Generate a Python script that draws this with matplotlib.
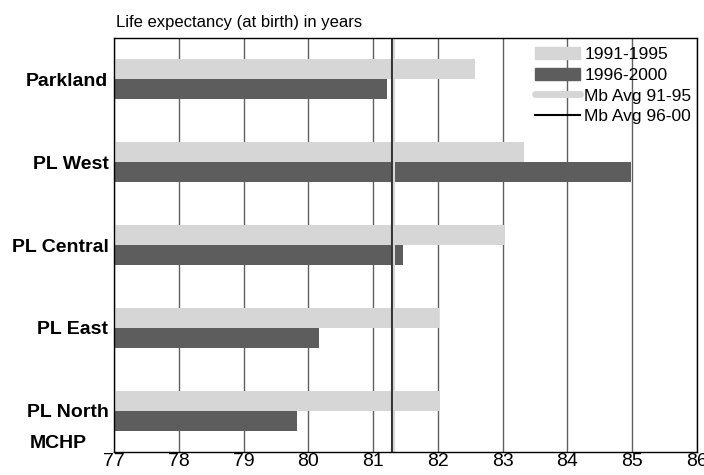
import matplotlib
matplotlib.use("Agg")
import matplotlib.pyplot as plt
from matplotlib.patches import Patch
from matplotlib.lines import Line2D
import numpy as np

# Data
regions = ["Parkland", "PL West", "PL Central", "PL East", "PL North"]
le_91_95 = [82.58, 83.33, 83.03, 82.02, 82.03]
le_96_00 = [81.21, 84.98, 81.46, 80.16, 79.83]
mb_avg_91_95 = 81.32
mb_avg_96_00 = 81.29
x_ticks = [77, 78, 79, 80, 81, 82, 83, 84, 85, 86]

LIGHT = "#d6d6d6"
DARK = "#5d5d5d"

plt.rcParams["font.family"] = ["Liberation Sans", "DejaVu Sans"]

fig = plt.figure(figsize=(7.04, 4.75), dpi=100)
ax = fig.add_axes([114 / 704, 1 - 452 / 475, (697 - 114) / 704, (452 - 38) / 475])

y = np.arange(len(regions))
h = 0.242
ax.barh(y - h / 2, np.array(le_91_95) - 77, left=77, height=h, color=LIGHT, zorder=2)
ax.barh(y + h / 2, np.array(le_96_00) - 77, left=77, height=h, color=DARK, zorder=2)

# Manitoba averages
ax.axvline(mb_avg_96_00, color="#333333", lw=1.5, zorder=3)
ax.axvline(mb_avg_91_95, color=LIGHT, lw=1.5, zorder=3)

ax.set_xlim(77, 86)
ax.set_ylim(len(regions) - 0.5, -0.5)
ax.set_xticks(x_ticks)
ax.set_xticklabels([str(t) for t in x_ticks], fontsize=14)
ax.set_yticks(y)
ax.set_yticklabels(regions, fontsize=14, fontweight="bold")
ax.tick_params(length=0)
ax.tick_params(axis="y", pad=4)
ax.tick_params(axis="x", pad=1)
ax.grid(axis="x", color="#606060", lw=1, zorder=0)
ax.set_axisbelow(True)
for s in ax.spines.values():
    s.set_color("black")
    s.set_linewidth(1)
    s.set_zorder(4)

fig.text(116 / 704, 1 - 22 / 475, "Life expectancy (at birth) in years", fontsize=12, va="center", ha="left")
fig.text(58 / 704, 1 - 443 / 475, "MCHP", fontsize=14, fontweight="bold", va="center", ha="center")

handles = [
    Patch(color=LIGHT),
    Patch(color=DARK),
    Line2D([0], [0], color=LIGHT, lw=5, solid_capstyle="round"),
    Line2D([0], [0], color="black", lw=1.5),
]
labels = ["1991-1995", "1996-2000", "Mb Avg 91-95", "Mb Avg 96-00"]
fig.legend(handles, labels, loc="upper left", bbox_to_anchor=(535 / 704, 1 - 47 / 475),
           frameon=False, fontsize=12.5, handlelength=2.6, handletextpad=0.25,
           labelspacing=0.32, borderpad=0, borderaxespad=0)

fig.savefig("out.png", dpi=100)
